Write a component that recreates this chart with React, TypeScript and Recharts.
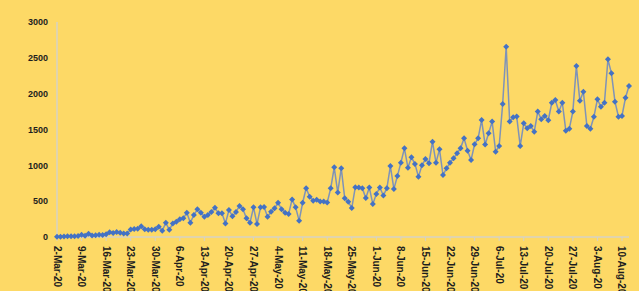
import { Line, LineChart, XAxis, YAxis } from 'recharts';

// daily counts, 2-Mar-20 .. 12-Aug-20
const counts = [
  5, 5, 8, 10, 12, 10, 15, 30, 18, 45,
  20, 25, 30, 28, 40, 65, 55, 70, 60, 50,
  50, 105, 110, 115, 150, 107, 100, 100, 107, 144,
  88, 200, 100, 190, 214, 246, 260, 340, 200, 307,
  386, 340, 283, 307, 350, 409, 330, 330, 190, 377,
  290, 350, 432, 386, 260, 200, 414, 181, 414, 420,
  283, 353, 400, 478, 386, 340, 320, 525, 414, 228,
  478, 680, 562, 506, 520, 495, 495, 480, 680, 972,
  620, 960, 540, 493, 404, 693, 690, 680, 543, 690,
  460, 600, 690, 580, 680, 990, 670, 850, 1037, 1237,
  967, 1112, 1020, 841, 1000, 1088, 1030, 1330, 1037, 1223,
  865, 958, 1037, 1098, 1168, 1237, 1377, 1205, 1075, 1293,
  1377, 1632, 1290, 1447, 1610, 1190, 1270, 1855, 2655, 1610,
  1670, 1680, 1270, 1586, 1516, 1548, 1470, 1750, 1642, 1690,
  1630, 1873, 1910, 1750, 1873, 1483, 1512, 1750, 2385, 1900,
  2027, 1548, 1512, 1678, 1921, 1818, 1873, 2479, 2284, 1888,
  1678, 1690, 1943, 2106,
];

const monthNames = ['Jan', 'Feb', 'Mar', 'Apr', 'May', 'Jun', 'Jul', 'Aug', 'Sep', 'Oct', 'Nov', 'Dec'];
const startDay = Date.UTC(2020, 2, 2);

// category labels, one per day
const dates = counts.map((_, i) => {
  const d = new Date(startDay + i * 86400000);
  return `${d.getUTCDate()}-${monthNames[d.getUTCMonth()]}-20`;
});

const dateTicks = [
  '2-Mar-20', '9-Mar-20', '16-Mar-20', '23-Mar-20', '30-Mar-20', '6-Apr-20', '13-Apr-20',
  '20-Apr-20', '27-Apr-20', '4-May-20', '11-May-20', '18-May-20', '25-May-20', '1-Jun-20',
  '8-Jun-20', '15-Jun-20', '22-Jun-20', '29-Jun-20', '6-Jul-20', '13-Jul-20', '20-Jul-20',
  '27-Jul-20', '3-Aug-20', '10-Aug-20',
];
const yTicks = [0, 500, 1000, 1500, 2000, 2500, 3000];

const data = dates.map((date, i) => ({ date, count: counts[i] }));

const FONT = '"Liberation Sans", Arial, sans-serif';

const Diamond = (props: any) => {
  const { cx, cy, index } = props;
  if (cx == null || cy == null) return null;
  const r = 3;
  return (
    <path
      key={`dot-${index}`}
      d={`M${cx},${cy - r}L${cx + r},${cy}L${cx},${cy + r}L${cx - r},${cy}Z`}
      fill="#4472C4"
    />
  );
};

const DateTick = ({ x, y, payload }: any) => (
  <text
    x={x}
    y={y}
    dy="0.35em"
    transform={`rotate(90, ${x}, ${y})`}
    textAnchor="start"
    fontSize={10}
    fontWeight="bold"
    fill="#1e1e1e"
    fontFamily={FONT}
  >
    {payload.value}
  </text>
);

export default function App() {
  return (
    <div style={{ position: 'fixed', left: 0, top: 0, width: 639, height: 291, background: '#FDD966' }}>
      <LineChart width={639} height={291} data={data} margin={{ top: 22, right: 10, bottom: 0, left: 0 }}>
        <XAxis
          dataKey="date"
          ticks={dateTicks}
          interval={0}
          height={54}
          axisLine={{ stroke: '#D6D2C4', strokeWidth: 1.5 }}
          tickLine={{ stroke: '#D6D2C4' }}
          tickSize={4}
          tickMargin={5}
          tick={<DateTick />}
        />
        <YAxis
          domain={[0, 3000]}
          ticks={yTicks}
          width={57}
          axisLine={{ stroke: '#D6D2C4', strokeWidth: 1.5 }}
          tickLine={false}
          tickSize={0}
          tickMargin={9}
          tick={{ fontSize: 9, fontWeight: 'bold', fill: '#1e1e1e', fontFamily: FONT }}
        />
        <Line
          type="linear"
          dataKey="count"
          stroke="#7F93B8"
          strokeWidth={1.5}
          dot={Diamond}
          activeDot={false}
          isAnimationActive={false}
        />
      </LineChart>
    </div>
  );
}
